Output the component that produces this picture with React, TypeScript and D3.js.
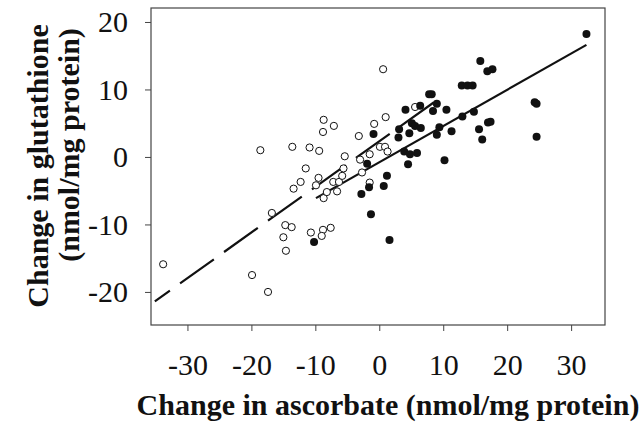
import React, { useEffect, useRef } from "react"
import * as d3 from "d3"

// open circles: [change in ascorbate, change in glutathione]
const openPoints: [number, number][] = [
  [-33.8, -15.9], [-18.6, 1.0], [-19.9, -17.5], [-17.4, -20.0], [-16.8, -8.3],
  [-13.6, 1.5], [-10.9, 1.4], [-9.4, 0.9], [-8.7, 5.5], [-7.1, 4.6],
  [-8.8, 3.7], [-11.5, -1.7], [-12.3, -3.7], [-13.4, -4.7], [-9.5, -3.1],
  [-9.9, -4.2], [-14.7, -10.1], [-13.7, -10.4], [-15.0, -11.9], [-14.6, -13.9],
  [-10.7, -11.2], [-8.8, -10.8], [-7.6, -10.5], [-9.0, -11.7], [-8.7, -6.1],
  [-8.2, -5.2], [-7.2, -3.7], [-6.6, -5.1], [-6.3, -3.7], [-5.8, -2.8],
  [-5.6, -1.7], [-5.4, 0.1], [-3.2, 3.1], [-3.0, -0.4], [-2.7, -2.3],
  [-1.5, 0.4], [-1.5, -3.8], [-0.8, 4.9], [0.6, 13.0], [1.0, 5.9],
  [0.1, 1.5], [0.9, 1.5], [1.3, 0.8], [5.6, 7.4],
]

// filled circles
const filledPoints: [number, number][] = [
  [-0.9, 3.4], [-1.9, -1.0], [-2.8, -5.5], [-1.3, -8.5], [-10.2, -12.6],
  [1.6, -12.3], [1.2, -2.8], [0.7, -4.3], [-1.6, -4.5], [32.4, 18.2],
  [15.8, 14.2], [16.9, 12.7], [17.7, 13.0], [12.9, 10.6], [13.8, 10.6],
  [14.6, 10.6], [7.8, 9.3], [8.2, 9.3], [9.0, 7.9], [6.4, 7.6],
  [4.1, 7.0], [8.4, 6.8], [10.5, 7.0], [13.0, 6.0], [14.8, 6.7],
  [24.3, 8.1], [24.6, 7.9], [17.0, 5.1], [17.4, 5.2], [15.6, 4.1],
  [16.1, 2.6], [24.6, 3.0], [9.4, 4.4], [9.0, 3.3], [11.3, 3.8],
  [5.1, 5.0], [5.6, 4.6], [6.5, 4.3], [3.1, 4.1], [4.7, 3.5],
  [3.0, 2.9], [3.9, 0.8], [4.8, 0.4], [5.9, 0.6], [4.5, -1.1],
  [10.2, -0.5],
]

// regression lines
const dashedFit: [number, number][] = [[-35.1, -21.4], [8.7, 8.2]]
const solidFit: [number, number][] = [[-9.9, -6.1], [32.4, 16.6]]

const xTicks = [-30, -20, -10, 0, 10, 20, 30]
const yTicks = [-20, -10, 0, 10, 20]

const width = 641
const height = 428

export default function App() {
  const ref = useRef<SVGSVGElement>(null)

  useEffect(() => {
    const svg = d3.select(ref.current)
    svg.selectAll("*").remove()

    const x = d3.scaleLinear().domain([-35.7, 35.3]).range([151, 605])
    const y = d3.scaleLinear().domain([-24.9, 22.07]).range([325, 8])

    const font = "'Liberation Serif', 'Times New Roman', serif"
    const plain = (d: d3.NumberValue) => String(d) // hyphen, not unicode minus

    // frame
    svg
      .append("rect")
      .attr("x", 151)
      .attr("y", 8)
      .attr("width", 454)
      .attr("height", 317)
      .attr("fill", "none")
      .attr("stroke", "#444")
      .attr("stroke-width", 1.2)

    const xAxis = svg
      .append("g")
      .attr("transform", "translate(0,325)")
      .call(d3.axisBottom(x).tickValues(xTicks).tickSize(6).tickFormat(plain))
      .attr("font-family", font)
      .attr("font-size", 30)
    xAxis.select(".domain").remove()
    xAxis.selectAll("line").attr("stroke", "#444")
    xAxis
      .selectAll("text")
      .attr("fill", "#111")
      .attr("y", 50)
      .attr("dy", 0)

    const yAxis = svg
      .append("g")
      .attr("transform", "translate(151,0)")
      .call(d3.axisLeft(y).tickValues(yTicks).tickSize(6).tickFormat(plain))
      .attr("font-family", font)
      .attr("font-size", 30)
    yAxis.select(".domain").remove()
    yAxis.selectAll("line").attr("stroke", "#444")
    yAxis
      .selectAll("text")
      .attr("fill", "#111")
      .attr("x", -23)
      .attr("dy", "0.33em")

    const line = d3
      .line<[number, number]>()
      .x(d => x(d[0]))
      .y(d => y(d[1]))

    svg
      .append("path")
      .attr("d", line(dashedFit))
      .attr("fill", "none")
      .attr("stroke", "#111")
      .attr("stroke-width", 2.2)
      .attr("stroke-dasharray", "41.5,12.5")
      .attr("stroke-dashoffset", 23)

    svg
      .append("path")
      .attr("d", line(solidFit))
      .attr("fill", "none")
      .attr("stroke", "#111")
      .attr("stroke-width", 2.2)

    svg
      .append("g")
      .selectAll("circle")
      .data(openPoints)
      .join("circle")
      .attr("cx", d => x(d[0]))
      .attr("cy", d => y(d[1]))
      .attr("r", 3.6)
      .attr("fill", "white")
      .attr("stroke", "#111")
      .attr("stroke-width", 1)

    svg
      .append("g")
      .selectAll("circle")
      .data(filledPoints)
      .join("circle")
      .attr("cx", d => x(d[0]))
      .attr("cy", d => y(d[1]))
      .attr("r", 4)
      .attr("fill", "#111")

    svg
      .append("text")
      .attr("x", 388)
      .attr("y", 415)
      .attr("text-anchor", "middle")
      .attr("font-family", font)
      .attr("font-weight", "bold")
      .attr("font-size", 30)
      .attr("fill", "#111")
      .text("Change in ascorbate (nmol/mg protein)")

    svg
      .append("text")
      .attr("transform", "translate(48,166) rotate(-90)")
      .attr("text-anchor", "middle")
      .attr("font-family", font)
      .attr("font-weight", "bold")
      .attr("font-size", 30)
      .attr("fill", "#111")
      .text("Change in glutathione")

    svg
      .append("text")
      .attr("transform", "translate(79,145) rotate(-90)")
      .attr("text-anchor", "middle")
      .attr("font-family", font)
      .attr("font-weight", "bold")
      .attr("font-size", 30)
      .attr("fill", "#111")
      .text("(nmol/mg protein)")
  }, [])

  return (
    <svg
      ref={ref}
      width={width}
      height={height}
      style={{ position: "absolute", left: 0, top: 0, background: "white" }}
    />
  )
}
